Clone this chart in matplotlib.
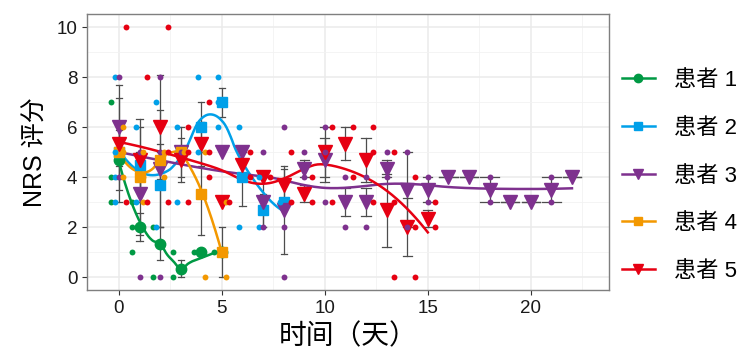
import numpy as np
import matplotlib
matplotlib.use('Agg')
import matplotlib.pyplot as plt
from matplotlib.lines import Line2D

plt.rcParams['font.family'] = ['Liberation Sans', 'Noto Sans CJK SC']

patients = ['患者 1', '患者 2', '患者 3', '患者 4', '患者 5']
colors = ['#009944', '#00A0E9', '#7E318E', '#F39800', '#E60012']
markers = ['o', 's', 'v', 's', 'v']
offsets = [-0.36, -0.18, 0.0, 0.18, 0.36]

# NRS scores recorded on each day, per patient
p1_days = [0, 1, 2, 3, 4, 5]
p1_scores = [[7, 4, 3], [3, 2, 1], [2, 2, 0], [1, 0, 0], [1], [1]]

p2_days = [0, 1, 2, 3, 4, 5, 6, 7, 8]
p2_scores = [[8, 5, 4, 3], [6, 3], [7, 2, 2], [6, 6, 3], [8, 5, 5],
             [8, 7, 6], [6, 4, 2], [4, 2, 2], [3]]

p3_days = [0, 1, 2, 3] + list(range(5, 23))
p3_scores = [[8, 6, 4], [5, 5, 0], [8, 5, 0], [5], [5], [5], [5, 2, 2],
             [6, 2, 0], [5, 4, 4], [6, 5, 3], [4, 3, 2], [4, 3, 2], [5, 4, 4],
             [5, 2], [4, 3], [4, 4], [4, 4], [4, 3], [3, 3], [3, 3], [4, 3],
             [4, 4]]

p4_days = [0, 1, 2, 3, 4, 5]
p4_scores = [[6, 5, 4], [5, 4, 3], [5, 5, 4], [5, 5, 5], [5, 5, 0], [3, 0, 0]]

p5_days = list(range(0, 16))
p5_scores = [[10, 3, 3], [8, 3, 3], [10, 5, 3], [6, 5, 3], [7, 5, 4], [3],
             [5, 4], [4], [5, 3, 3], [4, 3, 3], [6, 6, 3], [6, 6, 4],
             [6, 5, 3], [5, 3, 0], [4, 2, 0], [3, 2, 2]]

all_days = [p1_days, p2_days, p3_days, p4_days, p5_days]
all_scores = [p1_scores, p2_scores, p3_scores, p4_scores, p5_scores]


def loess(x, y, xs, span=0.75):
    x = np.asarray(x, float)
    y = np.asarray(y, float)
    n = len(x)
    q = max(int(np.floor(n * span)), 3)
    fit = []
    for x0 in xs:
        d = np.sort(np.abs(x - x0))
        h = (d[q - 1] + d[q]) / 2 if q < n else d[q - 1]
        dist = np.abs(x - x0)
        w = np.clip(1 - (dist / h) ** 3, 0, 1) ** 3
        A = np.vstack([np.ones(n), x - x0, (x - x0) ** 2]).T
        sw = np.sqrt(w)
        coef = np.linalg.lstsq(A * sw[:, None], y * sw, rcond=None)[0]
        fit.append(coef[0])
    return np.array(fit)


fig = plt.figure(figsize=(7.41, 3.52), dpi=100)
ax = fig.add_axes([0.1174, 0.176, 0.7045, 0.784])

# how many patients were measured on each day (sets error bar width)
n_on_day = {}
for days in all_days:
    for d in days:
        n_on_day[d] = n_on_day.get(d, 0) + 1

handles = []
for i in range(5):
    days = np.array(all_days[i])
    scores = all_scores[i]
    means = np.array([np.mean(s) for s in scores])
    ses = np.array([np.std(s, ddof=1) / np.sqrt(len(s)) if len(s) > 1 else np.nan
                    for s in scores])

    # raw observations
    px, py = [], []
    for d, s in zip(days, scores):
        for v in set(s):
            px.append(d + offsets[i])
            py.append(v)
    ax.scatter(px, py, s=18, color=colors[i], zorder=6, linewidths=0)

    # mean +- standard error
    for d, m, se in zip(days, means, ses):
        if np.isnan(se):
            continue
        hw = max(0.9 / n_on_day[d], 0.3) / 2
        ax.plot([d, d], [m - se, m + se], color='#4D4D4D', lw=0.9, zorder=3)
        ax.plot([d - hw, d + hw], [m + se, m + se], color='#4D4D4D', lw=0.9, zorder=3)
        ax.plot([d - hw, d + hw], [m - se, m - se], color='#4D4D4D', lw=0.9, zorder=3)

    xs = np.linspace(days.min(), days.max(), 200)
    ax.plot(xs, loess(days, means, xs), color=colors[i], lw=1.8, zorder=4)

    ms = 9.5 if markers[i] == 'v' else 7.5
    ax.plot(days, means, linestyle='none', marker=markers[i], ms=ms,
            color=colors[i], zorder=5)

    handles.append(Line2D([0], [0], color=colors[i], lw=1.8, marker=markers[i],
                          ms=ms * 0.8))

ax.set_xlim(-1.55, 23.8)
ax.set_ylim(-0.52, 10.52)
ax.set_xticks([0, 5, 10, 15, 20])
ax.set_yticks([0, 2, 4, 6, 8, 10])
ax.set_xticks([2.5, 7.5, 12.5, 17.5, 22.5], minor=True)
ax.set_yticks([1, 3, 5, 7, 9], minor=True)
ax.grid(which='major', color='#EBEBEB', lw=1.1, zorder=0)
ax.grid(which='minor', color='#F2F2F2', lw=0.6, zorder=0)
ax.set_axisbelow(True)
ax.tick_params(which='major', length=3.5, color='#333333', labelsize=13.5,
               labelcolor='#1a1a1a')
ax.tick_params(which='minor', length=0)
for sp in ax.spines.values():
    sp.set_color('#7F7F7F')
    sp.set_linewidth(1.0)

ax.set_xlabel('时间（天）', fontsize=20, labelpad=5)
ax.set_ylabel('NRS 评分', fontsize=18, labelpad=6)

fig.legend(handles, patients, loc='center left', bbox_to_anchor=(0.812, 0.5),
           frameon=False, fontsize=16, labelspacing=1.2, handlelength=1.5,
           handletextpad=0.85)

fig.savefig('out.png', dpi=100)
